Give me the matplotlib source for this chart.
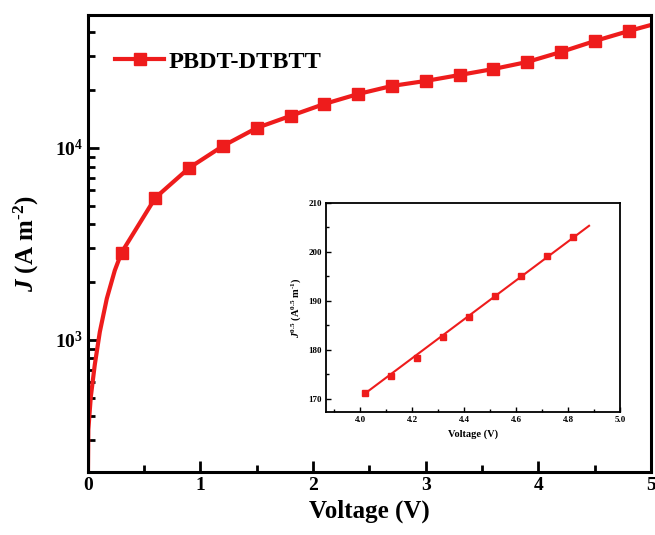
import matplotlib
matplotlib.use("Agg")
import matplotlib.pyplot as plt
import numpy as np
from matplotlib.ticker import LogLocator, MultipleLocator, NullFormatter, FixedLocator

# ---- data ----
marker_v = [0.3, 0.6, 0.9, 1.2, 1.5, 1.8, 2.1, 2.4, 2.7, 3.0, 3.3, 3.6, 3.9, 4.2, 4.5, 4.8]
marker_j = [2850, 5500, 7870, 10240, 12710, 14690, 16950, 19100, 21040, 22340,
            23990, 25780, 28040, 31620, 36060, 40640]
curve_v = [0.0, 0.005, 0.027, 0.062, 0.107, 0.169, 0.24, 0.3, 0.6, 0.9, 1.2, 1.5, 1.8,
           2.1, 2.4, 2.7, 3.0, 3.3, 3.6, 3.9, 4.2, 4.5, 4.8, 5.0]
curve_j = [150, 340, 505, 740, 1100, 1640, 2300, 2850, 5500, 7870, 10240, 12710, 14690,
           16950, 19100, 21040, 22340, 23990, 25780, 28040, 31620, 36060, 40640, 43750]
series_label = "PBDT-DTBTT"

inset_v = [4.02, 4.12, 4.22, 4.32, 4.42, 4.52, 4.62, 4.72, 4.82]
inset_j = [171.2, 174.6, 178.4, 182.5, 186.7, 190.9, 195.1, 199.2, 203.0]
fit_v = [4.02, 4.88]
fit_j = [171.1, 205.3]

red = "#ee1c1c"
plt.rcParams['font.family'] = ['Liberation Serif', 'DejaVu Serif']
plt.rcParams['mathtext.fontset'] = 'custom'
plt.rcParams['mathtext.rm'] = 'Liberation Serif:bold'
plt.rcParams['mathtext.it'] = 'Liberation Serif:bold:italic'
plt.rcParams['mathtext.bf'] = 'Liberation Serif:bold'

fig = plt.figure(figsize=(6.55, 5.35), dpi=100)
ax = fig.add_axes([0.134, 0.118, 0.860, 0.854])

ax.plot(curve_v, curve_j, color=red, lw=3.0, zorder=2)
ax.plot(marker_v, marker_j, color=red, lw=0, marker='s', ms=8.5, zorder=3)
# legend proxy
ax.plot([], [], color=red, lw=3.0, marker='s', ms=8.5, label=series_label)

ax.set_yscale('log')
ax.set_xlim(0, 5)
ax.set_ylim(205, 49300)
ax.xaxis.set_major_locator(MultipleLocator(1))
ax.xaxis.set_minor_locator(MultipleLocator(0.5))
ax.yaxis.set_major_locator(FixedLocator([1e3, 1e4]))
ax.yaxis.set_minor_locator(LogLocator(base=10, subs=np.arange(2, 10)))
ax.yaxis.set_minor_formatter(NullFormatter())
ax.set_yticklabels([r'$\mathregular{10^3}$', r'$\mathregular{10^4}$'])

ax.tick_params(which='both', direction='in', top=False, right=False, width=2)
ax.tick_params(which='major', length=8, labelsize=14)
ax.tick_params(which='minor', length=5)
for lbl in ax.get_xticklabels() + ax.get_yticklabels():
    lbl.set_fontweight('bold')
for s in ax.spines.values():
    s.set_linewidth(2.2)

ax.set_xlabel('Voltage (V)', fontsize=18, fontweight='bold', labelpad=4)
ax.set_ylabel('$J$ (A m$^{\\text{-2}}$)', fontsize=18, fontweight='bold', labelpad=10)

leg = ax.legend(loc='upper left', frameon=False, prop={'weight': 'bold', 'size': 17.5},
                handlelength=2.0, handletextpad=0.2, borderaxespad=0.5,
                bbox_to_anchor=(0.01, 0.97))

# ---- inset ----
ins = fig.add_axes([0.498, 0.230, 0.449, 0.391])
ins.plot(fit_v, fit_j, color=red, lw=1.5, zorder=2)
ins.plot(inset_v, inset_j, color=red, lw=0, marker='s', ms=4.5, zorder=3)
ins.set_xlim(3.87, 5.0)
ins.set_ylim(167.3, 210)
ins.xaxis.set_major_locator(MultipleLocator(0.2))
ins.xaxis.set_minor_locator(MultipleLocator(0.1))
ins.yaxis.set_major_locator(MultipleLocator(10))
ins.yaxis.set_minor_locator(MultipleLocator(5))
ins.tick_params(which='both', direction='in', top=False, right=False, width=1)
ins.tick_params(which='major', length=3.5, labelsize=6.5, pad=3)
ins.tick_params(which='minor', length=2)
ins.set_xticks(ins.get_xticks())
ins.set_xticklabels([f'{v:.1f}' for v in ins.get_xticks()])
ins.set_xlim(3.87, 5.0)
for lbl in ins.get_xticklabels() + ins.get_yticklabels():
    lbl.set_fontweight('bold')
for s in ins.spines.values():
    s.set_linewidth(1.3)
ins.set_xlabel('Voltage (V)', fontsize=7.5, fontweight='bold', labelpad=4)
ins.set_ylabel('$J^{0.5}$ (A$^{0.5}$ m$^{\\text{-1}}$)', fontsize=7.5, fontweight='bold', labelpad=4)

fig.savefig('out.png', dpi=100)
